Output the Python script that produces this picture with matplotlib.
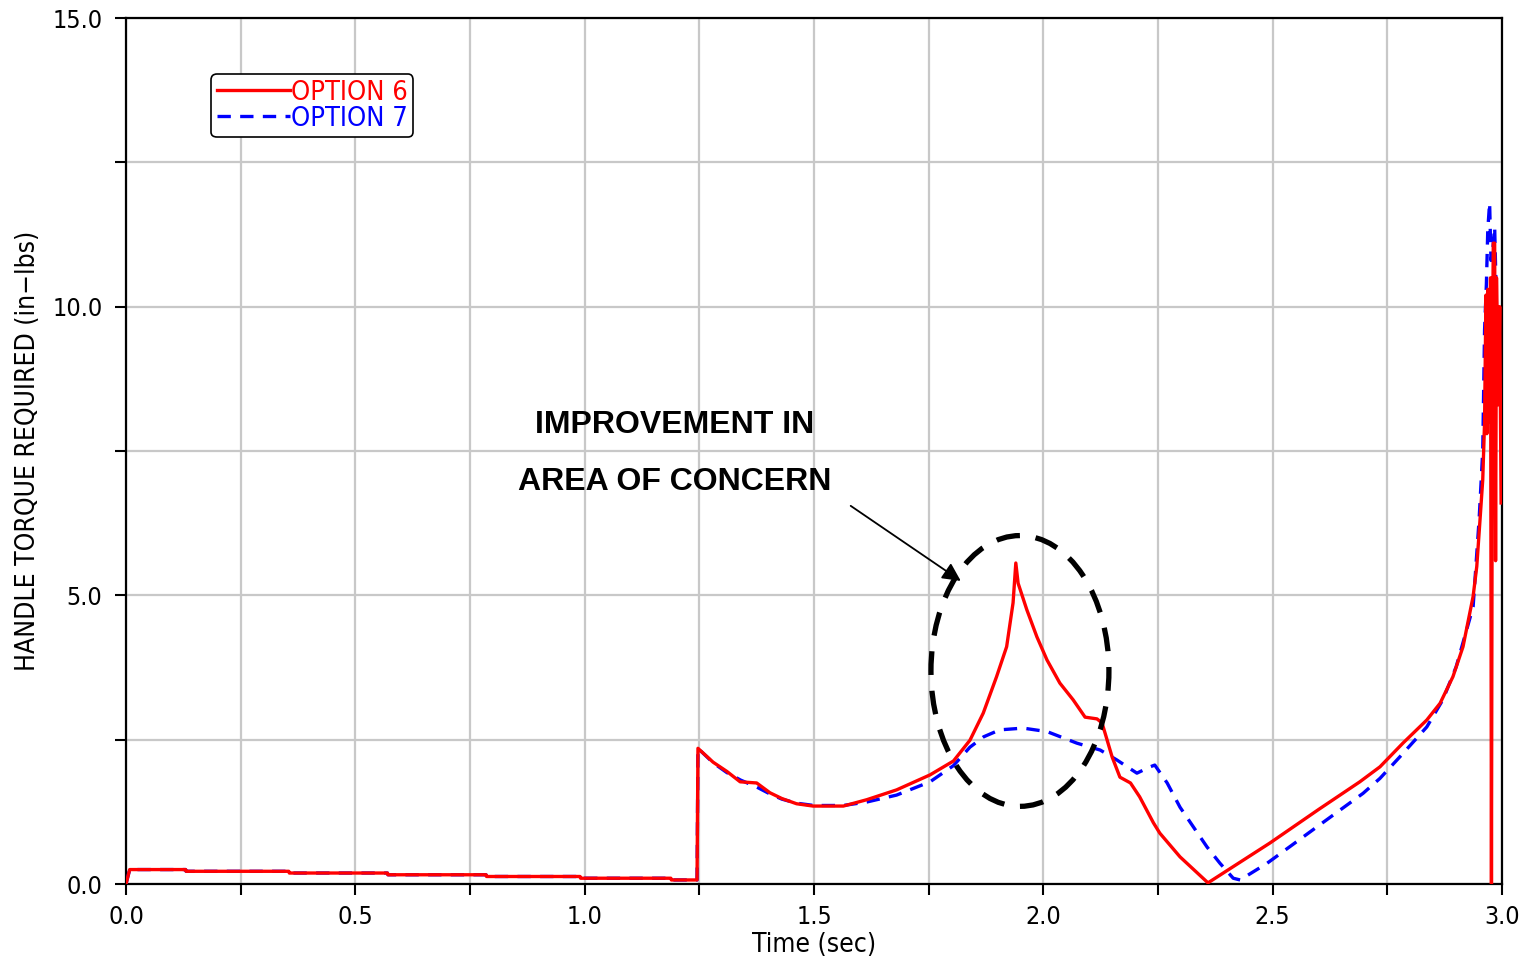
import matplotlib
matplotlib.use("Agg")
import matplotlib.pyplot as plt
from matplotlib.patches import Ellipse
from matplotlib import font_manager
import numpy as np

# ---- data ----
t_opt6 = [0.0, 0.008, 0.13, 0.131, 0.355, 0.356, 0.57, 0.571, 0.785, 0.786, 0.99, 0.991,
          1.188, 1.189, 1.245, 1.247, 1.28, 1.31, 1.339, 1.375, 1.404, 1.43, 1.462, 1.498,
          1.564, 1.615, 1.68, 1.753, 1.804, 1.84, 1.869, 1.898, 1.92, 1.934, 1.940, 1.945,
          1.964, 1.986, 2.008, 2.036, 2.065, 2.091, 2.117, 2.128, 2.15, 2.167, 2.19, 2.21,
          2.24, 2.254, 2.298, 2.359, 2.494, 2.6, 2.69, 2.734, 2.784, 2.836, 2.865, 2.893,
          2.915, 2.937, 2.945, 2.952, 2.958, 2.962, 2.965, 2.967, 2.969, 2.972, 2.975,
          2.977, 2.979, 2.981, 2.984, 2.986, 2.988, 2.992, 2.995, 2.998]
y_opt6 = [0.0, 0.25, 0.25, 0.22, 0.22, 0.19, 0.19, 0.16, 0.16, 0.13, 0.13, 0.10,
          0.10, 0.07, 0.07, 2.35, 2.11, 1.95, 1.77, 1.75, 1.58, 1.48, 1.39, 1.35,
          1.35, 1.46, 1.63, 1.89, 2.13, 2.49, 2.96, 3.59, 4.11, 4.87, 5.56, 5.21,
          4.75, 4.28, 3.88, 3.48, 3.19, 2.89, 2.86, 2.79, 2.2, 1.85, 1.75, 1.51,
          1.06, 0.88, 0.47, 0.02, 0.71, 1.29, 1.77, 2.03, 2.44, 2.84, 3.13, 3.59,
          4.11, 4.98, 5.5, 6.3, 7.0, 8.0, 10.2, 7.8, 10.3, 8.0, 10.5,
          0.0, 9.0, 11.1, 11.1, 5.6, 10.5, 8.3, 10.0, 6.6]

t_opt7 = [0.0, 0.008, 0.13, 0.131, 0.355, 0.356, 0.57, 0.571, 0.785, 0.786, 0.99, 0.991,
          1.188, 1.189, 1.245, 1.247, 1.28, 1.31, 1.34, 1.375, 1.404, 1.43, 1.462, 1.5,
          1.564, 1.615, 1.68, 1.753, 1.804, 1.84, 1.87, 1.905, 1.956, 2.008, 2.073, 2.124,
          2.16, 2.204, 2.233, 2.243, 2.27, 2.298, 2.327, 2.357, 2.385, 2.414, 2.429, 2.488,
          2.588, 2.697, 2.734, 2.777, 2.836, 2.871, 2.9, 2.937, 2.95, 2.958, 2.962, 2.966,
          2.969, 2.973, 2.976, 2.98, 2.984, 2.988, 2.993, 2.998, 3.0]
y_opt7 = [0.0, 0.25, 0.25, 0.22, 0.22, 0.19, 0.19, 0.16, 0.16, 0.13, 0.13, 0.10,
          0.10, 0.07, 0.07, 2.35, 2.1, 1.93, 1.8, 1.68, 1.56, 1.47, 1.4, 1.36,
          1.36, 1.42, 1.54, 1.77, 2.05, 2.37, 2.55, 2.67, 2.7, 2.64, 2.44, 2.32,
          2.15, 1.92, 2.03, 2.06, 1.75, 1.33, 0.99, 0.64, 0.36, 0.1, 0.07, 0.36,
          0.94, 1.57, 1.83, 2.2, 2.72, 3.19, 3.76, 4.8, 6.3, 7.5, 9.6, 10.4,
          11.33, 11.8, 10.8, 11.0, 11.38, 10.0, 9.0, 8.5, 7.9]

series_labels = ["OPTION 6", "OPTION 7"]
x_ticks = [0.0, 0.25, 0.5, 0.75, 1.0, 1.25, 1.5, 1.75, 2.0, 2.25, 2.5, 2.75, 3.0]
x_tick_labels = ["0.0", "", "0.5", "", "1.0", "", "1.5", "", "2.0", "", "2.5", "", "3.0"]
y_ticks = [0.0, 2.5, 5.0, 7.5, 10.0, 12.5, 15.0]
y_tick_labels = ["0.0", "", "5.0", "", "10.0", "", "15.0"]
annotation_lines = ["IMPROVEMENT IN", "AREA OF CONCERN"]

# ---- fonts ----
avail = {f.name for f in font_manager.fontManager.ttflist}
cond = [f for f in font_manager.fontManager.ttflist
        if f.name == "DejaVu Sans" and "ondensed" in str(f.stretch) + f.fname]
if "Liberation Sans Narrow" in avail:
    tick_fp = dict(family=["Liberation Sans Narrow", "DejaVu Sans"])
elif cond:
    tick_fp = dict(family=["DejaVu Sans"], stretch="condensed")
else:
    tick_fp = dict(family=["DejaVu Sans"])

fig = plt.figure(figsize=(15.26, 9.61), dpi=100)
ax = fig.add_axes([126/1526, 77/961, 1376/1526, 866/961])

ax.plot(t_opt7, y_opt7, color="#0000ff", lw=2.4, ls=(0, (4, 2.8)), label=series_labels[1], zorder=3)
ax.plot(t_opt6, y_opt6, color="#ff0000", lw=2.4, label=series_labels[0], zorder=4)

ax.set_xlim(0, 3.0)
ax.set_ylim(0, 15.0)
ax.set_xticks(x_ticks)
ax.set_xticklabels(x_tick_labels, fontsize=18, **tick_fp)
ax.set_yticks(y_ticks)
ax.set_yticklabels(y_tick_labels, fontsize=18, **tick_fp)
ax.tick_params(direction="out", length=8, width=1.5, colors="black")
ax.tick_params(axis="y", pad=9)
ax.tick_params(axis="x", pad=7)
ax.grid(True, color="#c8c8c8", lw=1.6, zorder=0)
for s in ax.spines.values():
    s.set_linewidth(1.6)
    s.set_color("black")

ax.set_xlabel("Time (sec)", fontsize=19, labelpad=2, **tick_fp)
ax.set_ylabel("HANDLE TORQUE REQUIRED (in\u2212lbs)", fontsize=19, labelpad=8, **tick_fp)

# legend (ordered: option 6 then option 7)
h, l = ax.get_legend_handles_labels()
leg_prop = font_manager.FontProperties(size=19.5, **tick_fp)
leg = ax.legend([h[1], h[0]], [l[1], l[0]], loc="upper left",
                bbox_to_anchor=(0.062, 0.935), prop=leg_prop,
                labelcolor="linecolor", handlelength=2.7, handletextpad=0.05,
                borderpad=0.2, labelspacing=0.0, frameon=True, fancybox=True,
                borderaxespad=0.0)
leg.get_frame().set_edgecolor("black")
leg.get_frame().set_linewidth(1.2)
leg.get_frame().set_alpha(1)
# shift legend contents slightly right within the frame (reference has wider left margin)
leg._legend_box.align = "right"

# annotation text
ax.text(1.197, 7.95, annotation_lines[0], ha="center", va="center",
        family=["Liberation Sans", "DejaVu Sans"], fontweight="bold", fontsize=23, zorder=5)
ax.text(1.197, 6.97, annotation_lines[1], ha="center", va="center",
        family=["Liberation Sans", "DejaVu Sans"], fontweight="bold", fontsize=23, zorder=5)
ax.annotate("", xy=(1.82, 5.25), xytext=(1.58, 6.55),
            arrowprops=dict(arrowstyle="-|>,head_length=1.1,head_width=0.55",
                            color="black", lw=1.3, shrinkA=0, shrinkB=0), zorder=5)

ell = Ellipse((1.949, 3.69), 0.388, 4.69, fill=False, ec="black", lw=3.8,
              ls=(0, (4.5, 3)), zorder=5)
ax.add_patch(ell)

fig.savefig("out.png", dpi=100)
